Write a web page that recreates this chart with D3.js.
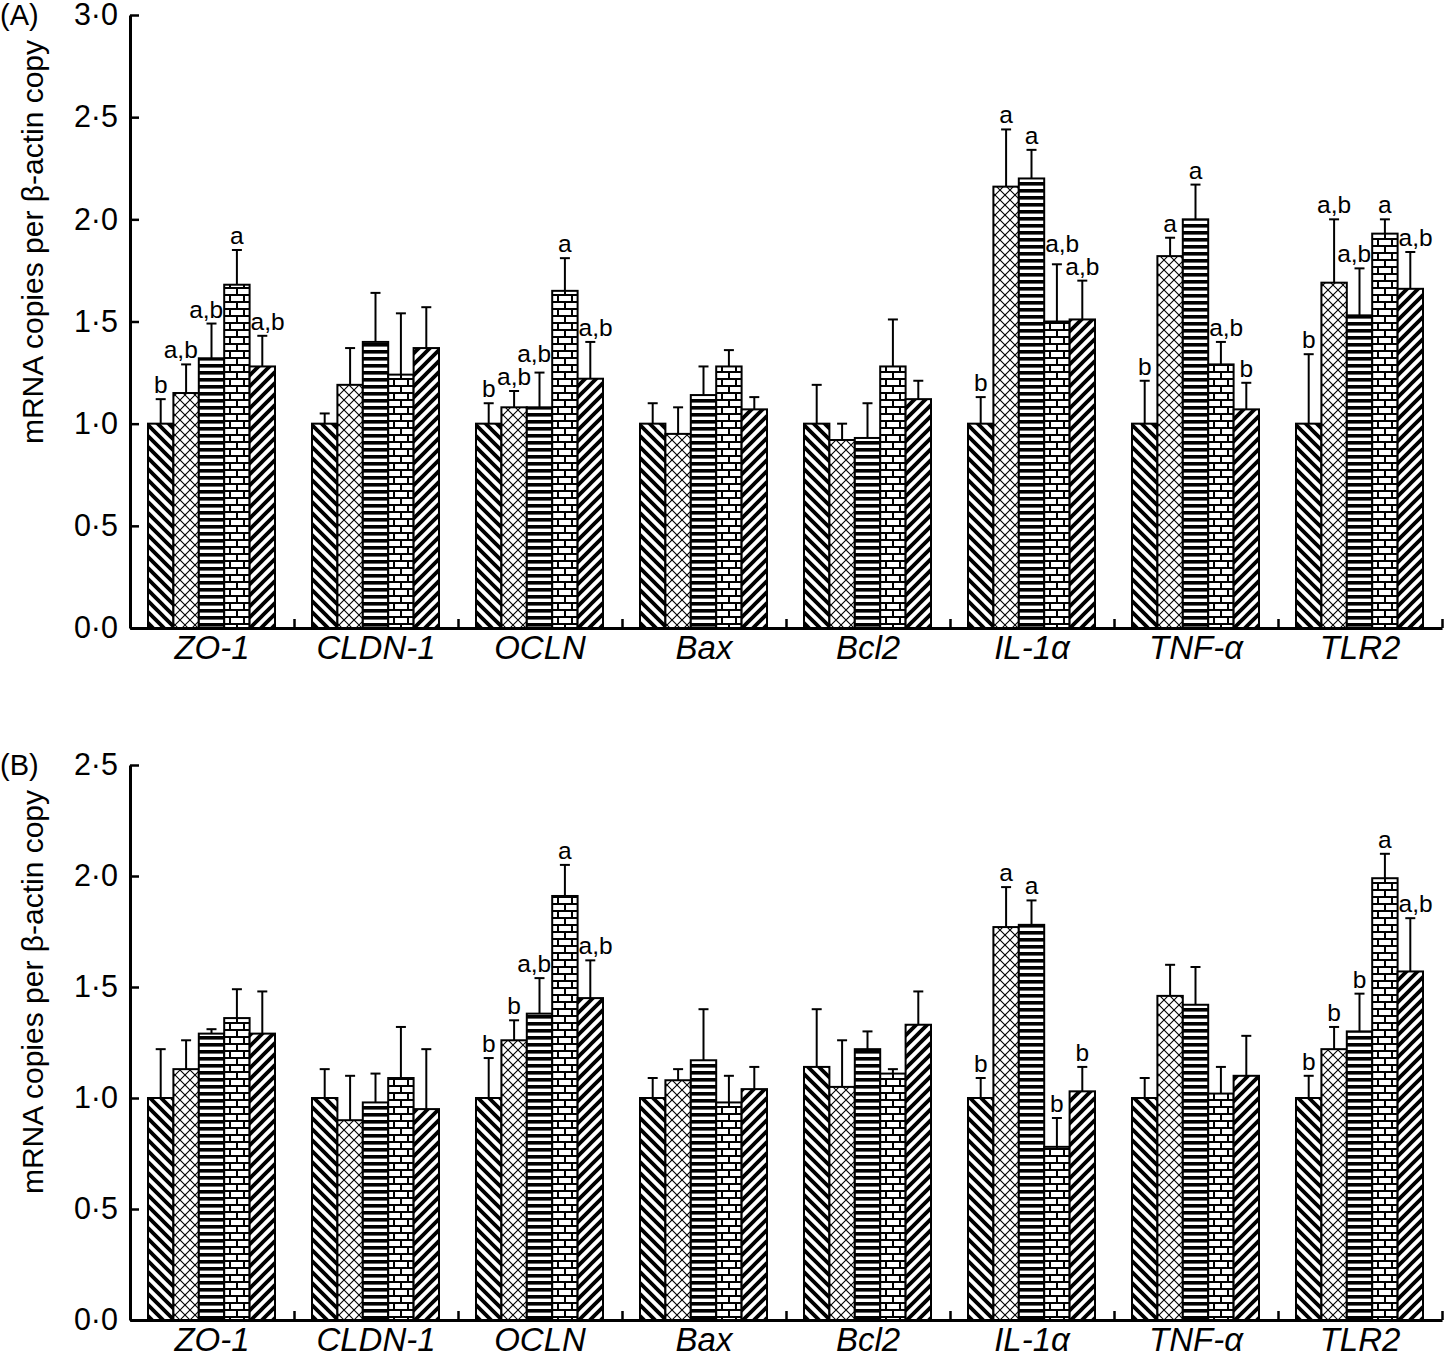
<!DOCTYPE html>
<html>
<head>
<meta charset="utf-8">
<script src="https://cdn.jsdelivr.net/npm/d3@7"></script>
<style>
  body { margin: 0; background: #fff; }
  svg { display: block; font-family: 'Liberation Sans', Arial, sans-serif; }
</style>
</head>
<body>
<div id="chart"></div>
<script>
// genes on the x axis, five diet groups per gene
const genes = ['ZO-1', 'CLDN-1', 'OCLN', 'Bax', 'Bcl2', 'IL-1α', 'TNF-α', 'TLR2'];
const groups = ['g1', 'g2', 'g3', 'g4', 'g5'];

// panel A
const meansA = [
  [1.00, 1.15, 1.32, 1.68, 1.28],
  [1.00, 1.19, 1.40, 1.24, 1.37],
  [1.00, 1.08, 1.08, 1.65, 1.22],
  [1.00, 0.95, 1.14, 1.28, 1.07],
  [1.00, 0.92, 0.93, 1.28, 1.12],
  [1.00, 2.16, 2.20, 1.50, 1.51],
  [1.00, 1.82, 2.00, 1.29, 1.07],
  [1.00, 1.69, 1.53, 1.93, 1.66]
];
const semsA = [
  [0.12, 0.14, 0.17, 0.17, 0.15],
  [0.05, 0.18, 0.24, 0.30, 0.20],
  [0.10, 0.08, 0.17, 0.16, 0.18],
  [0.10, 0.13, 0.14, 0.08, 0.06],
  [0.19, 0.08, 0.17, 0.23, 0.09],
  [0.13, 0.28, 0.14, 0.28, 0.19],
  [0.21, 0.09, 0.17, 0.11, 0.13],
  [0.34, 0.31, 0.23, 0.07, 0.18]
];
const lettersA = [
  ['b', 'a,b', 'a,b', 'a', 'a,b'],
  ['', '', '', '', ''],
  ['b', 'a,b', 'a,b', 'a', 'a,b'],
  ['', '', '', '', ''],
  ['', '', '', '', ''],
  ['b', 'a', 'a', 'a,b', 'a,b'],
  ['b', 'a', 'a', 'a,b', 'b'],
  ['b', 'a,b', 'a,b', 'a', 'a,b']
];
const ticksA = [0, 0.5, 1.0, 1.5, 2.0, 2.5, 3.0];

// panel B
const meansB = [
  [1.00, 1.13, 1.29, 1.36, 1.29],
  [1.00, 0.90, 0.98, 1.09, 0.95],
  [1.00, 1.26, 1.38, 1.91, 1.45],
  [1.00, 1.08, 1.17, 0.98, 1.04],
  [1.14, 1.05, 1.22, 1.11, 1.33],
  [1.00, 1.77, 1.78, 0.78, 1.03],
  [1.00, 1.46, 1.42, 1.02, 1.10],
  [1.00, 1.22, 1.30, 1.99, 1.57]
];
const semsB = [
  [0.22, 0.13, 0.02, 0.13, 0.19],
  [0.13, 0.20, 0.13, 0.23, 0.27],
  [0.18, 0.09, 0.16, 0.14, 0.17],
  [0.09, 0.05, 0.23, 0.12, 0.10],
  [0.26, 0.21, 0.08, 0.02, 0.15],
  [0.09, 0.18, 0.11, 0.13, 0.11],
  [0.09, 0.14, 0.17, 0.12, 0.18],
  [0.10, 0.10, 0.17, 0.11, 0.24]
];
const lettersB = [
  ['', '', '', '', ''],
  ['', '', '', '', ''],
  ['b', 'b', 'a,b', 'a', 'a,b'],
  ['', '', '', '', ''],
  ['', '', '', '', ''],
  ['b', 'a', 'a', 'b', 'b'],
  ['', '', '', '', ''],
  ['b', 'b', 'b', 'a', 'a,b']
];
const ticksB = [0, 0.5, 1.0, 1.5, 2.0, 2.5];

const width = 1449;
const height = 1361;
const left = 130;
const right = 1442;
const letterSize = 24.5;

const svg = d3.select('#chart').append('svg')
  .attr('width', width)
  .attr('height', height);

// fill patterns, one per group
const defs = svg.append('defs');

function diagPattern(id, dir) {
  const s = 11;
  const p = defs.append('pattern')
    .attr('id', id)
    .attr('patternUnits', 'userSpaceOnUse')
    .attr('width', s)
    .attr('height', s);
  p.append('rect').attr('width', s).attr('height', s).attr('fill', '#fff');
  const d = dir === 'down'
    ? `M0,0L${s},${s}M${-s / 2},${s / 2}L${s / 2},${1.5 * s}M${s / 2},${-s / 2}L${1.5 * s},${s / 2}`
    : `M0,${s}L${s},0M${-s / 2},${s / 2}L${s / 2},${-s / 2}M${s / 2},${1.5 * s}L${1.5 * s},${s / 2}`;
  p.append('path').attr('d', d).attr('stroke', '#000').attr('stroke-width', 3.8);
}

diagPattern('pat-g1', 'down');
diagPattern('pat-g5', 'up');

const cross = defs.append('pattern')
  .attr('id', 'pat-g2')
  .attr('patternUnits', 'userSpaceOnUse')
  .attr('width', 10)
  .attr('height', 10);
cross.append('rect').attr('width', 10).attr('height', 10).attr('fill', '#fff');
cross.append('path')
  .attr('d', 'M0,0L10,10M10,0L0,10')
  .attr('stroke', '#000')
  .attr('stroke-width', 1.1);

const horiz = defs.append('pattern')
  .attr('id', 'pat-g3')
  .attr('patternUnits', 'userSpaceOnUse')
  .attr('width', 10)
  .attr('height', 7);
horiz.append('rect').attr('width', 10).attr('height', 7).attr('fill', '#fff');
horiz.append('rect').attr('width', 10).attr('height', 3.6).attr('fill', '#000');

const brick = defs.append('pattern')
  .attr('id', 'pat-g4')
  .attr('patternUnits', 'userSpaceOnUse')
  .attr('width', 14)
  .attr('height', 14);
brick.append('rect').attr('width', 14).attr('height', 14).attr('fill', '#fff');
brick.append('path')
  .attr('d', 'M0,1H14M0,8H14M2,0V8M9,7V14')
  .attr('stroke', '#000')
  .attr('stroke-width', 2);

const fmt = v => d3.format('.1f')(v).replace('.', '·');

function drawPanel(opts) {
  const y = d3.scaleLinear()
    .domain([0, opts.max])
    .range([opts.bottom, opts.top]);

  const x0 = d3.scaleBand()
    .domain(genes)
    .range([left, right]);

  const x1 = d3.scaleBand()
    .domain(groups)
    .range([18, x0.bandwidth() - 19]);

  const g = svg.append('g');

  const geneG = g.selectAll('g.gene')
      .data(genes)
      .enter()
    .append('g')
      .attr('class', 'gene')
      .attr('transform', d => `translate(${x0(d)},0)`);

  const bars = geneG.selectAll('g.bar')
      .data((d, i) => groups.map((grp, j) => ({
        grp,
        mean: opts.means[i][j],
        sem: opts.sems[i][j]
      })))
      .enter()
    .append('g')
      .attr('class', 'bar');

  // error bars (upper only) drawn first so bar outlines sit on top
  bars.append('line')
    .attr('x1', d => x1(d.grp) + x1.bandwidth() / 2)
    .attr('x2', d => x1(d.grp) + x1.bandwidth() / 2)
    .attr('y1', d => y(d.mean))
    .attr('y2', d => y(d.mean + d.sem))
    .attr('stroke', '#000')
    .attr('stroke-width', 2);

  bars.append('line')
    .attr('x1', d => x1(d.grp) + x1.bandwidth() / 2 - 5)
    .attr('x2', d => x1(d.grp) + x1.bandwidth() / 2 + 5)
    .attr('y1', d => y(d.mean + d.sem))
    .attr('y2', d => y(d.mean + d.sem))
    .attr('stroke', '#000')
    .attr('stroke-width', 2);

  bars.append('rect')
    .attr('x', d => x1(d.grp))
    .attr('y', d => y(d.mean))
    .attr('width', x1.bandwidth())
    .attr('height', d => opts.bottom - y(d.mean))
    .attr('fill', d => `url(#pat-${d.grp})`)
    .attr('stroke', '#000')
    .attr('stroke-width', 2);

  placeLetters(g, opts, x0, x1, y);

  // y axis, ticks pointing inward
  const yAxis = d3.axisLeft(y)
    .tickValues(opts.ticks)
    .tickFormat(fmt)
    .tickSizeInner(-9)
    .tickSizeOuter(0)
    .tickPadding(12);

  const ya = g.append('g')
    .attr('transform', `translate(${left},0)`)
    .call(yAxis);
  ya.select('.domain').attr('stroke-width', 3);
  ya.selectAll('.tick line').attr('stroke-width', 2.5);
  ya.selectAll('.tick text')
    .attr('font-size', 30.5)
    .attr('font-family', null);

  // x axis with inward ticks at the category boundaries
  const xb = d3.scaleLinear().domain([0, genes.length]).range([left, right]);
  const xa = g.append('g')
    .attr('transform', `translate(0,${opts.bottom})`)
    .call(d3.axisTop(xb).ticks(genes.length).tickSizeInner(9).tickSizeOuter(0).tickFormat(''));
  xa.select('.domain').attr('stroke-width', 3);
  xa.selectAll('.tick line').attr('stroke-width', 2.5);

  g.selectAll('text.gene-label')
      .data(genes)
      .enter()
    .append('text')
      .attr('class', 'gene-label')
      .attr('x', d => x0(d) + x0.bandwidth() / 2)
      .attr('y', opts.bottom + 31)
      .attr('text-anchor', 'middle')
      .attr('font-size', 33)
      .attr('font-style', 'italic')
      .text(d => d);

  g.append('text')
    .attr('transform', `translate(43,${opts.titleY})rotate(-90)`)
    .attr('text-anchor', 'middle')
    .attr('font-size', 30)
    .text('mRNA copies per β-actin copy');

  g.append('text')
    .attr('x', 0)
    .attr('y', opts.top + 10)
    .attr('font-size', 29)
    .text(`(${opts.id})`);
}

// significance letters above the error bars, nudged clear of taller
// neighbouring bars and of each other
function placeLetters(g, opts, x0, x1, y) {
  const layer = g.append('g').attr('class', 'letters');
  const bw = x1.bandwidth();
  const asc = letterSize * 0.74;

  genes.forEach((gene, i) => {
    const items = [];
    groups.forEach((grp, j) => {
      const letter = opts.letters[i][j];
      if (!letter) return;
      const bx = x0(gene) + x1(grp);
      const t = layer.append('text')
        .attr('text-anchor', 'middle')
        .attr('font-size', letterSize)
        .text(letter);
      const w = t.node().getComputedTextLength();
      let cx = bx + bw / 2;
      let base = y(opts.means[i][j] + opts.sems[i][j]) - 6;

      // taller bar on the right
      if (j < groups.length - 1) {
        const nTop = y(opts.means[i][j + 1]);
        const nLeft = bx + bw;
        if (base > nTop && cx + w / 2 > nLeft - 1) cx = nLeft - 1 - w / 2;
      }
      // taller bar on the left
      if (j > 0) {
        const pTop = y(opts.means[i][j - 1]);
        if (base > pTop && cx - w / 2 < bx + 1) cx = bx + 1 + w / 2;
      }
      items.push({ t, cx, base, w });
    });

    for (let k = 0; k < items.length - 1; k += 1) {
      const a = items[k];
      const b = items[k + 1];
      const overlapX = (a.cx + a.w / 2) - (b.cx - b.w / 2);
      const overlapY = Math.min(a.base, b.base) + 4 - (Math.max(a.base, b.base) - asc);
      if (overlapX > 0 && overlapY > 0) {
        if (a.base < b.base) a.base -= overlapY + 1;
        else b.base -= overlapY + 1;
      }
    }

    items.forEach(d => d.t.attr('x', d.cx).attr('y', d.base));
  });
}

drawPanel({
  id: 'A', top: 15, bottom: 628, max: 3.0, ticks: ticksA,
  means: meansA, sems: semsA, letters: lettersA, titleY: 242
});

drawPanel({
  id: 'B', top: 765, bottom: 1320, max: 2.5, ticks: ticksB,
  means: meansB, sems: semsB, letters: lettersB, titleY: 992
});
</script>
</body>
</html>
